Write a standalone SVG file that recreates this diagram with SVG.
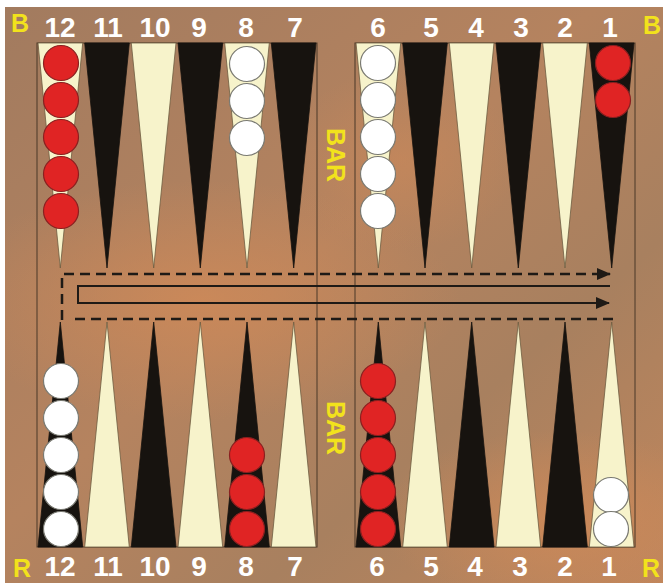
<svg xmlns="http://www.w3.org/2000/svg" width="663" height="583" viewBox="0 0 663 583">
<defs>
<linearGradient id="wood" x1="0" y1="0" x2="1" y2="1">
<stop offset="0" stop-color="#a27b5f"/>
<stop offset="0.45" stop-color="#b5835f"/>
<stop offset="0.7" stop-color="#a8805f"/>
<stop offset="1" stop-color="#c0865c"/>
</linearGradient>
<radialGradient id="orange1" cx="0.5" cy="0.5" r="0.5">
<stop offset="0" stop-color="#d08a58" stop-opacity="0.8"/>
<stop offset="1" stop-color="#d08a58" stop-opacity="0"/>
</radialGradient>
<clipPath id="boardclip">
<rect x="5" y="7" width="658" height="576"/>
</clipPath>
<marker id="ah" viewBox="0 0 14 12" refX="13" refY="6" markerWidth="14" markerHeight="12" markerUnits="userSpaceOnUse" orient="auto">
<path d="M0,0 L14,6 L0,12 Z" fill="#1e1a16"/>
</marker>
<style>
.cream{fill:#f7f3cb;stroke:#6d5c40;stroke-width:0.8}
.black{fill:#17130f;stroke:#17130f;stroke-width:0.8}
.red{fill:#e02424;stroke:#8a2020;stroke-width:1.2}
.white{fill:#ffffff;stroke:#7a7a72;stroke-width:1.2}
.num{font-family:"Liberation Sans",Arial,sans-serif;font-weight:bold;font-size:28px;fill:#ffffff;text-anchor:middle}
.side{font-family:"Liberation Sans",Arial,sans-serif;font-weight:bold;font-size:25px;fill:#f2e21c;text-anchor:middle}
.bar{font-family:"Liberation Sans",Arial,sans-serif;font-weight:bold;font-size:25px;fill:#f2e21c;text-anchor:middle;dominant-baseline:central}
.frame{fill:none;stroke:#4a3828;stroke-width:1}
.dash{fill:none;stroke:#1e1a16;stroke-width:2.5;stroke-dasharray:10 6}
.solid{fill:none;stroke:#1e1a16;stroke-width:2}
</style>
</defs>
<g id="background">
<rect x="0" y="0" width="663" height="583" fill="#ffffff"/>
<g clip-path="url(#boardclip)">
<rect x="5" y="7" width="658" height="576" fill="url(#wood)"/>
<ellipse cx="200" cy="300" rx="260" ry="120" fill="url(#orange1)"/>
<ellipse cx="560" cy="520" rx="180" ry="90" fill="url(#orange1)"/>
<ellipse cx="400" cy="160" rx="120" ry="90" fill="url(#orange1)" opacity="0.6"/>
</g>
<rect x="37" y="43" width="280" height="504" class="frame"/>
<rect x="355" y="43" width="280" height="504" class="frame"/>
</g>
<g id="points-top">
<polygon class="cream" points="38,43 82.7,43 60.3,268"/>
<polygon class="black" points="84.7,43 129.3,43 107,268"/>
<polygon class="cream" points="131.3,43 176,43 153.7,268"/>
<polygon class="black" points="178,43 222.7,43 200.3,268"/>
<polygon class="cream" points="224.7,43 269.3,43 247,268"/>
<polygon class="black" points="271.3,43 316,43 293.7,268"/>
<polygon class="cream" points="356,43 400.7,43 378.3,268"/>
<polygon class="black" points="402.7,43 447.3,43 425,268"/>
<polygon class="cream" points="449.3,43 494,43 471.7,268"/>
<polygon class="black" points="496,43 540.7,43 518.3,268"/>
<polygon class="cream" points="542.7,43 587.3,43 565,268"/>
<polygon class="black" points="589.3,43 634,43 611.7,268"/>
</g>
<g id="points-bottom">
<polygon class="black" points="38,547 82.7,547 60.3,322"/>
<polygon class="cream" points="84.7,547 129.3,547 107,322"/>
<polygon class="black" points="131.3,547 176,547 153.7,322"/>
<polygon class="cream" points="178,547 222.7,547 200.3,322"/>
<polygon class="black" points="224.7,547 269.3,547 247,322"/>
<polygon class="cream" points="271.3,547 316,547 293.7,322"/>
<polygon class="black" points="356,547 400.7,547 378.3,322"/>
<polygon class="cream" points="402.7,547 447.3,547 425,322"/>
<polygon class="black" points="449.3,547 494,547 471.7,322"/>
<polygon class="cream" points="496,547 540.7,547 518.3,322"/>
<polygon class="black" points="542.7,547 587.3,547 565,322"/>
<polygon class="cream" points="589.3,547 634,547 611.7,322"/>
</g>
<g id="checkers">
<circle class="red" cx="61" cy="63" r="17.5"/>
<circle class="red" cx="61" cy="100" r="17.5"/>
<circle class="red" cx="61" cy="137" r="17.5"/>
<circle class="red" cx="61" cy="174" r="17.5"/>
<circle class="red" cx="61" cy="211" r="17.5"/>
<circle class="white" cx="247" cy="64" r="17.5"/>
<circle class="white" cx="247" cy="101" r="17.5"/>
<circle class="white" cx="247" cy="138" r="17.5"/>
<circle class="white" cx="378" cy="63" r="17.5"/>
<circle class="white" cx="378" cy="100" r="17.5"/>
<circle class="white" cx="378" cy="137" r="17.5"/>
<circle class="white" cx="378" cy="174" r="17.5"/>
<circle class="white" cx="378" cy="211" r="17.5"/>
<circle class="red" cx="613" cy="63" r="17.5"/>
<circle class="red" cx="613" cy="100" r="17.5"/>
<circle class="white" cx="61" cy="381" r="17.5"/>
<circle class="white" cx="61" cy="418" r="17.5"/>
<circle class="white" cx="61" cy="455" r="17.5"/>
<circle class="white" cx="61" cy="492" r="17.5"/>
<circle class="white" cx="61" cy="529" r="17.5"/>
<circle class="red" cx="247" cy="455" r="17.5"/>
<circle class="red" cx="247" cy="492" r="17.5"/>
<circle class="red" cx="247" cy="529" r="17.5"/>
<circle class="red" cx="378" cy="381" r="17.5"/>
<circle class="red" cx="378" cy="418" r="17.5"/>
<circle class="red" cx="378" cy="455" r="17.5"/>
<circle class="red" cx="378" cy="492" r="17.5"/>
<circle class="red" cx="378" cy="529" r="17.5"/>
<circle class="white" cx="611" cy="495" r="17.5"/>
<circle class="white" cx="611" cy="529" r="17.5"/>
</g>
<g id="connectors">
<path class="dash" d="M62,320 L62,274 L610,274" marker-end="url(#ah)"/>
<path class="dash" d="M75,319 L613,319"/>
<path class="solid" d="M610,286 L78,286 L78,303 L609,303" marker-end="url(#ah)"/>
</g>
<g id="labels-top">
<text class="side" x="20" y="32">B</text>
<text class="num" x="60" y="37">12</text>
<text class="num" x="108" y="37">11</text>
<text class="num" x="155" y="37">10</text>
<text class="num" x="199" y="37">9</text>
<text class="num" x="246" y="37">8</text>
<text class="num" x="295" y="37">7</text>
<text class="num" x="378" y="37">6</text>
<text class="num" x="431" y="37">5</text>
<text class="num" x="476" y="37">4</text>
<text class="num" x="521" y="37">3</text>
<text class="num" x="565" y="37">2</text>
<text class="num" x="610" y="37">1</text>
<text class="side" x="652" y="34">B</text>
</g>
<g id="labels-bottom">
<text class="side" x="22" y="577">R</text>
<text class="num" x="60" y="576">12</text>
<text class="num" x="108" y="576">11</text>
<text class="num" x="155" y="576">10</text>
<text class="num" x="199" y="576">9</text>
<text class="num" x="246" y="576">8</text>
<text class="num" x="295" y="576">7</text>
<text class="num" x="377" y="576">6</text>
<text class="num" x="431" y="576">5</text>
<text class="num" x="475" y="576">4</text>
<text class="num" x="520" y="576">3</text>
<text class="num" x="565" y="576">2</text>
<text class="num" x="609" y="576">1</text>
<text class="side" x="651" y="577">R</text>
</g>
<g id="bar-labels">
<text class="bar" x="336" y="155" transform="rotate(90 336 155)">BAR</text>
<text class="bar" x="336" y="428" transform="rotate(90 336 428)">BAR</text>
</g>
</svg>
